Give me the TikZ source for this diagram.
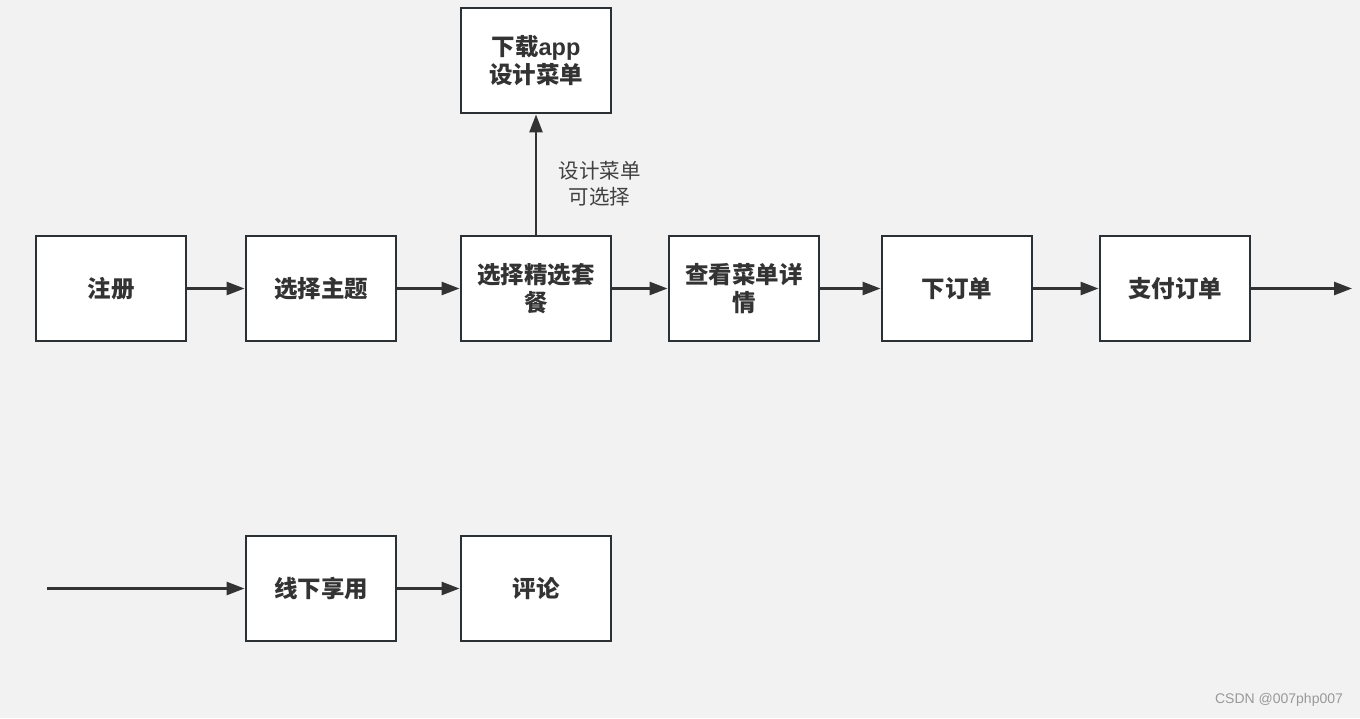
\documentclass[tikz,border=0pt]{standalone}
\usepackage{fontspec}
\newfontfamily\cjk{Noto Sans CJK SC}
\newfontfamily\latin{Liberation Sans}
\newfontfamily\wmfont{Liberation Sans}
\usetikzlibrary{positioning,arrows.meta}
\definecolor{boxline}{HTML}{2B3035}
\definecolor{flowline}{HTML}{333333}
\definecolor{canvas}{HTML}{F2F2F2}

\begin{document}
\begin{tikzpicture}[x=1pt,y=1pt,-{Triangle[length=18pt,width=13pt]},
line width=2.6pt, draw=flowline, on grid,
stepbox/.style ={rectangle, draw=boxline, fill=white, line width=2.9pt,
minimum width=150pt, minimum height=105pt, align=center,
font=\cjk\bfseries\fontsize{23.5}{28}\selectfont, text=black!80},
note/.style ={align=center, font=\cjk\fontsize{20.5}{26}\selectfont, text=black!75}]
\fill[canvas] (0,0) rectangle (1360,-718);
\node[stepbox] (reg) at (111,-288.5) {注册};
\node[stepbox] (theme) [right = 210pt of reg] {选择主题};
\node[stepbox] (combo) [right = 215pt of theme] {选择精选套\\餐};
\node[stepbox] (detail) [right = 208pt of combo] {查看菜单详\\情};
\node[stepbox] (order) [right = 213pt of detail] {下订单};
\node[stepbox] (pay) [right = 218pt of order] {支付订单};
\node[stepbox] (app) [above = 228pt of combo] {下载{\latin app}\\设计菜单};
\node[stepbox] (dine) [below = 300pt of theme] {线下享用};
\node[stepbox] (review) [right = 215pt of dine] {评论};
\coordinate (out) at (1352,-288.5);
\coordinate (in) at (47,-588.5);
\draw (reg) -- (theme);
\draw (theme) -- (combo);
\draw (combo) -- (detail);
\draw (detail) -- (order);
\draw (order) -- (pay);
\draw (pay) -- (out);
\draw (combo) -- node[note, right=18pt, pos=0.42] {设计菜单\\可选择} (app);
\draw (in) -- (dine);
\draw (dine) -- (review);
\node (mark) at (1279,-700) {\wmfont\fontsize{14}{16}\selectfont\color{black!40}CSDN @007php007};
\end{tikzpicture}
\end{document}
